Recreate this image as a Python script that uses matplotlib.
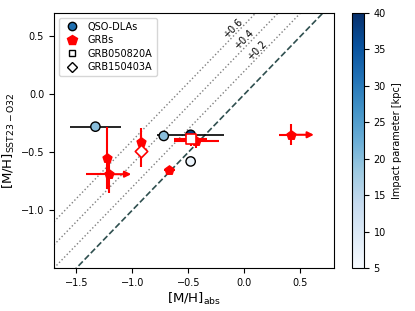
import numpy as np
import matplotlib
matplotlib.use("Agg")
import matplotlib.pyplot as plt
from matplotlib.lines import Line2D
from matplotlib import cm, colors

# QSO-DLA data
qso_x = [-1.33, -0.72, -0.48, -0.48]
qso_y = [-0.28, -0.36, -0.35, -0.58]
qso_xerr = [0.23, 0.0, 0.30, 0.0]
qso_imp = [20, 20, 38, 7]

# GRB data (normal)
grb_x = [-1.23, -0.92, -0.67, -0.43]
grb_y = [-0.55, -0.41, -0.65, -0.40]
grb_xerr = [0.0, 0.0, 0.05, 0.20]
grb_yerr = [0.27, 0.12, 0.0, 0.06]

# GRB lower limits in x
grbl_x = [-1.21, 0.42]
grbl_y = [-0.69, -0.35]
grbl_xerr_lo = [0.20, 0.11]
grbl_xerr_arrow = [0.20, 0.20]
grbl_yerr = [0.16, 0.09]

# Special GRBs
g0508_x, g0508_y, g0508_xerr, g0508_yerr = -0.48, -0.39, 0.15, 0.06
g1504_x, g1504_y, g1504_yerr = -0.92, -0.49, 0.14

offsets = [0.6, 0.4, 0.2]
offset_labels = ["+0.6", "+0.4", "+0.2"]
label_x = [-0.10, 0.0, 0.11]
cbar_ticks = [5, 10, 15, 20, 25, 30, 35, 40]

fig = plt.figure(figsize=(4.15, 3.11), dpi=100)
ax = fig.add_axes([0.130, 0.138, 0.675, 0.820])
cax = fig.add_axes([0.848, 0.138, 0.029, 0.820])

xx = np.array([-1.7, 0.8])
ax.plot(xx, xx, ls="--", color="#2f4f4f", lw=1.2, zorder=1)
for off, lab, lx in zip(offsets, offset_labels, label_x):
    ax.plot(xx, xx + off, ls=":", color="gray", lw=1.0, zorder=1)
    ax.text(lx, lx + off + 0.07, lab, rotation=46, fontsize=7,
            ha="center", va="center", rotation_mode="anchor")

norm = colors.Normalize(vmin=5, vmax=40)
cmap = plt.get_cmap("Blues")

# QSO error bars
ax.errorbar(qso_x, qso_y, xerr=qso_xerr, fmt="none", ecolor="black", lw=1.2, zorder=2)

# GRB errorbars
ax.errorbar(grb_x, grb_y, xerr=grb_xerr, yerr=grb_yerr, fmt="none", ecolor="red", lw=1.5, zorder=3)
ax.errorbar(grbl_x, grbl_y, xerr=[grbl_xerr_lo, [0, 0]], yerr=grbl_yerr, fmt="none",
            ecolor="red", lw=1.5, zorder=3)
for x0, y0, dx in zip(grbl_x, grbl_y, grbl_xerr_arrow):
    ax.annotate("", xy=(x0 + dx, y0), xytext=(x0, y0),
                arrowprops=dict(arrowstyle="-|>", color="red", lw=1.5,
                                mutation_scale=9, shrinkA=0, shrinkB=0), zorder=3)
ax.errorbar([g0508_x], [g0508_y], xerr=g0508_xerr, yerr=g0508_yerr, fmt="none",
            ecolor="red", lw=1.5, zorder=3)
ax.errorbar([g1504_x], [g1504_y], yerr=g1504_yerr, fmt="none", ecolor="red", lw=1.5, zorder=3)

ax.scatter(grb_x + grbl_x, grb_y + grbl_y, marker="p", s=45, color="red", zorder=4)
ax.scatter([g0508_x], [g0508_y], marker="s", s=60, facecolor="white", edgecolor="red", lw=1.2, zorder=5)
ax.scatter([g1504_x], [g1504_y], marker="D", s=40, facecolor="white", edgecolor="red", lw=1.2, zorder=5)

ax.scatter(qso_x, qso_y, c=qso_imp, cmap=cmap, norm=norm, s=45, edgecolor="black",
           lw=1.0, zorder=4)

ax.set_xlim(-1.7, 0.8)
ax.set_ylim(-1.5, 0.7)
ax.set_xticks([-1.5, -1.0, -0.5, 0.0, 0.5])
ax.set_yticks([-1.0, -0.5, 0.0, 0.5])
ax.tick_params(labelsize=7)
ax.set_xlabel(r"[M/H]$_{\rm abs}$", fontsize=9.5, labelpad=2)
ax.set_ylabel(r"[M/H]$_{\rm SST23-O32}$", fontsize=9.5, labelpad=3)

handles = [
    Line2D([], [], ls="none", marker="o", markersize=6, markerfacecolor="#1f6fb0", markeredgecolor="black"),
    Line2D([], [], ls="none", marker="p", markersize=7, color="red"),
    Line2D([], [], ls="none", marker="s", markersize=5, markerfacecolor="white", markeredgecolor="black"),
    Line2D([], [], ls="none", marker="D", markersize=5, markerfacecolor="white", markeredgecolor="black"),
]
ax.legend(handles, ["QSO-DLAs", "GRBs", "GRB050820A", "GRB150403A"], loc="upper left",
          fontsize=7, handletextpad=0.6, borderpad=0.4, labelspacing=0.35)

sm = cm.ScalarMappable(norm=norm, cmap=cmap)
cb = fig.colorbar(sm, cax=cax)
cb.set_ticks(cbar_ticks)
cb.ax.tick_params(labelsize=7)
cb.set_label("Impact parameter [kpc]", fontsize=7)

fig.savefig("out.png", dpi=100)
